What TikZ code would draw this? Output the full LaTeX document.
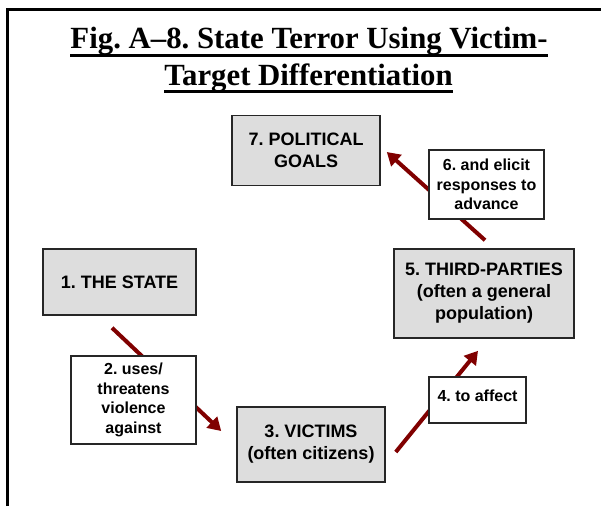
\documentclass[tikz,border=0pt]{standalone}
\usepackage{fontspec}
\setmainfont{Liberation Serif}
\newfontfamily\boxfont{Liberation Sans}
\usetikzlibrary{arrows.meta}
\definecolor{arrowred}{RGB}{128,0,0}
\definecolor{boxgray}{RGB}{221,221,221}
\frenchspacing
\begin{document}
\begin{tikzpicture}[x=1pt, y=-1pt, >={Triangle[width=15pt,length=13pt]},
    titletext/.style={inner sep=0pt, anchor=base, font=\fontsize{30.8}{36}\selectfont\bfseries},
    stagebox/.style={draw=black!85, line width=1.6pt, fill=boxgray, align=center, inner sep=2pt, font=\boxfont\fontsize{18}{22}\selectfont\bfseries},
    labelbox/.style={draw=black!85, line width=1.2pt, fill=white, align=center, inner sep=2pt, font=\boxfont\fontsize{16}{19.5}\selectfont\bfseries},
    flow/.style={->, draw=arrowred, fill=arrowred, line width=4pt}]
    \useasboundingbox (0,0) rectangle (601,506);
    \draw[line width=3.5pt] (7.5,506) -- (7.5,9.5) -- (602,9.5);

    \node[titletext] (title1) at (309,48.5) {Fig. A–8. State Terror Using Victim-};
    \node[titletext] (title2) at (308.5,85.5) {Target Differentiation};
    \draw[line width=3pt] ([yshift=-6.5pt]title1.base west) -- ([yshift=-6.5pt]title1.base east);
    \draw[line width=3pt] ([yshift=-5.5pt]title2.base west) -- ([yshift=-5.5pt]title2.base east);

    \node[stagebox, minimum width=148pt, minimum height=70pt] (goals) at (306,150.5) {7. POLITICAL\\GOALS};
    \node[stagebox, minimum width=153pt, minimum height=66pt] (state) at (119.5,282) {1. THE STATE};
    \node[stagebox, minimum width=148pt, minimum height=75pt] (victims) at (311,444.5) {3. VICTIMS\\(often citizens)};
    \node[stagebox, minimum width=180pt, minimum height=89pt] (parties) at (484,293.5) {5. THIRD-PARTIES\\(often a general\\population)};

    \draw[flow] ([xshift=-7.5pt,yshift=-12pt]state.south) -- ([xshift=-15pt,yshift=13.5pt]victims.west);
    \draw[flow] ([xshift=10pt,yshift=-7.5pt]victims.east) -- ([xshift=-6pt,yshift=-12pt]parties.south);
    \draw[flow] ([xshift=1pt,yshift=8pt]parties.north) -- ([xshift=6pt,yshift=-1.5pt]goals.east);

    \node[labelbox, minimum width=125pt, minimum height=88pt] (uses) at (133.5,400) {2. uses/\\threatens\\violence\\against};
    \node[labelbox, minimum width=97pt, minimum height=46pt, text height=13pt, text depth=11pt] (affect) at (477.5,400) {4. to affect};
    \node[labelbox, minimum width=115pt, minimum height=69pt] (elicit) at (486.5,184.5) {6. and elicit\\responses to\\advance};
\end{tikzpicture}
\end{document}
